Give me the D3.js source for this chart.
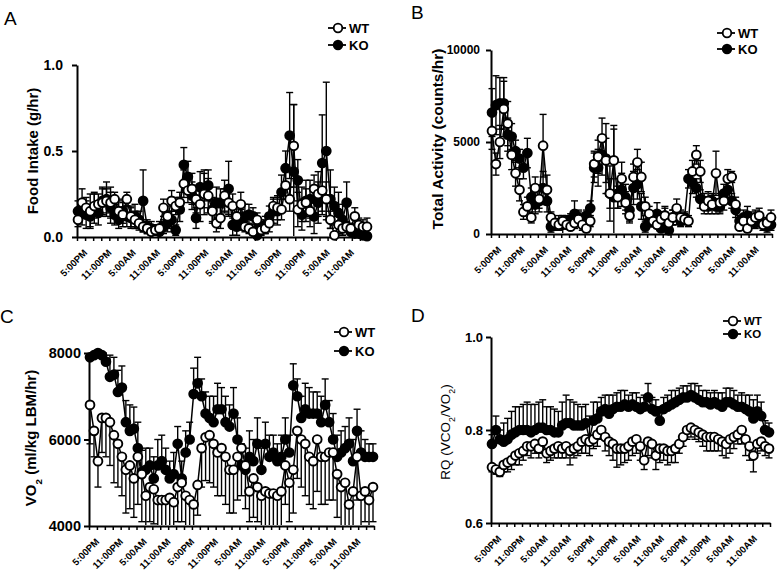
<!DOCTYPE html>
<html><head><meta charset="utf-8">
<script src="https://cdn.jsdelivr.net/npm/d3@7"></script>
<style>body{margin:0;background:#fff}svg{display:block;font-family:"Liberation Sans",Arial,sans-serif}</style>
</head><body><svg id="c" width="777" height="579"></svg>
<script>
const hourLabels = ["5:00PM","11:00PM","5:00AM","11:00AM","5:00PM","11:00PM","5:00AM","11:00AM","5:00PM","11:00PM","5:00AM","11:00AM"];
const seriesNames = ["WT","KO"];
const foodWT = [0.10,0.20,0.17,0.15,0.18,0.19,0.20,0.21,0.20,0.22,0.15,0.13,0.22,0.12,0.10,0.08,0.06,0.05,0.03,0.04,0.05,0.17,0.12,0.21,0.18,0.20,0.31,0.27,0.28,0.22,0.19,0.25,0.24,0.15,0.08,0.11,0.24,0.20,0.18,0.12,0.19,0.06,0.05,0.03,0.10,0.04,0.05,0.08,0.18,0.17,0.16,0.30,0.22,0.53,0.16,0.19,0.20,0.15,0.28,0.25,0.27,0.22,0.10,0.01,0.07,0.05,0.06,0.05,0.12,0.07,0.06,0.06];
const foodKO = [0.15,0.14,0.13,0.12,0.17,0.14,0.21,0.22,0.17,0.13,0.10,0.15,0.12,0.11,0.12,0.10,0.21,0.06,0.05,0.04,0.03,0.06,0.08,0.10,0.04,0.16,0.42,0.35,0.24,0.11,0.29,0.28,0.30,0.16,0.20,0.20,0.21,0.28,0.07,0.06,0.10,0.12,0.13,0.12,0.01,0.06,0.07,0.12,0.15,0.15,0.26,0.40,0.59,0.38,0.33,0.13,0.21,0.22,0.12,0.20,0.43,0.50,0.22,0.18,0.14,0.10,0.20,0.03,0.02,0.02,0.01,0.005];
const foodWTerr = [0.04,0.08,0.06,0.10,0.07,0.06,0.08,0.07,0.09,0.04,0.06,0.07,0.04,0.06,0.05,0.04,0.03,0.03,0.02,0.03,0.04,0.05,0.06,0.06,0.05,0.06,0.08,0.07,0.09,0.08,0.10,0.12,0.10,0.07,0.05,0.06,0.09,0.07,0.07,0.05,0.07,0.03,0.03,0.02,0.04,0.03,0.03,0.05,0.05,0.07,0.06,0.08,0.07,0.24,0.10,0.10,0.08,0.09,0.08,0.13,0.14,0.10,0.05,0.01,0.05,0.04,0.03,0.03,0.05,0.04,0.04,0.05];
const foodKOerr = [0.06,0.07,0.08,0.06,0.09,0.07,0.08,0.10,0.09,0.06,0.05,0.07,0.06,0.06,0.07,0.05,0.18,0.04,0.04,0.03,0.03,0.04,0.05,0.05,0.03,0.07,0.10,0.09,0.08,0.06,0.09,0.11,0.09,0.07,0.09,0.08,0.07,0.16,0.06,0.05,0.06,0.07,0.06,0.05,0.02,0.04,0.05,0.06,0.07,0.08,0.10,0.10,0.25,0.39,0.12,0.09,0.12,0.11,0.10,0.12,0.28,0.40,0.17,0.11,0.12,0.09,0.12,0.03,0.02,0.02,0.02,0.01];
const actWT = [5600,3800,5000,6800,6000,4300,3300,2400,1200,1500,900,2500,1900,4800,2400,900,600,500,700,500,400,600,800,500,300,700,3800,4200,5200,4000,2200,4000,2000,3000,1700,1000,3100,3900,3100,1500,1100,700,500,800,1000,600,900,1400,900,800,700,3400,4300,3400,1500,1800,1600,3300,1700,1800,3000,3100,1600,400,700,300,700,900,1000,500,600,900];
const actKO = [6600,7000,7100,7100,5400,5300,4500,4100,3600,4400,2000,1600,1800,2500,1800,400,500,600,500,700,800,1100,900,600,1000,1400,3600,3600,4300,4100,2200,2000,2200,2400,2000,1300,2500,2700,1500,400,700,800,1100,300,1000,200,900,1000,700,900,3000,2800,2500,1900,1800,1500,1800,1500,1500,2200,2400,1800,1300,700,900,1000,800,600,700,500,400,500];
const actWTerr = [1000,600,900,1500,1200,800,700,600,400,500,300,600,500,1700,800,300,200,200,300,200,200,300,400,300,200,300,700,900,1100,1200,800,1900,600,900,600,400,700,700,800,500,400,300,200,400,500,300,400,500,400,300,300,600,500,600,400,500,500,1200,500,500,500,300,400,200,300,200,300,400,400,300,300,400];
const actKOerr = [1300,1600,1400,1400,900,700,600,500,600,800,500,500,600,900,600,300,300,400,500,300,300,700,400,400,300,400,800,1000,1100,1900,1500,3700,800,900,700,600,900,800,700,300,300,400,600,300,400,300,400,500,300,300,500,600,500,500,400,400,400,400,400,500,500,400,400,300,400,500,400,300,300,300,300,300];
const vo2WT = [6800,6200,5500,6500,6500,6400,6100,5900,5600,5300,5400,5100,5600,5200,4700,4900,4850,4600,4600,4600,4650,4550,4900,5000,4700,4600,4500,4950,5800,6050,6100,5900,5700,5800,5600,5300,5300,5600,5800,5400,4800,5100,4900,4700,4800,4750,4750,4700,4800,5400,5000,5300,6200,6000,5900,5600,5500,6000,5600,5600,5700,5700,5200,4900,5000,4500,4800,5600,4700,4800,4600,4900];
const vo2KO = [7900,7950,8000,7950,7800,7450,7500,7100,7200,6400,6200,6250,5800,5250,5300,5400,5100,5400,5500,5300,5100,5200,5900,5100,5700,6000,7050,7300,7000,6600,6500,6400,6700,6700,6400,6300,6600,6000,5400,5300,5600,5500,5900,5300,5900,5600,5700,5500,5600,6000,5700,7250,7000,6500,6700,6600,6600,6600,6400,6800,6400,6000,5600,5700,5800,5900,5500,6200,5700,5600,5600,5600];
const vo2WTerr = [900,600,600,800,900,1000,1100,1000,900,1000,1000,900,1100,1100,700,800,800,700,700,700,700,700,800,900,700,700,600,700,900,1000,1100,1000,1000,1100,1100,1000,1000,1000,1100,1000,700,900,800,700,900,800,800,800,800,900,900,1000,1100,1100,1200,1100,1100,1200,1100,1100,1100,1100,1000,900,1000,700,900,1000,700,700,700,800];
const vo2KOerr = [300,200,200,200,300,500,400,500,500,500,600,500,600,500,500,400,500,600,600,500,400,500,400,400,500,400,600,600,400,500,500,600,600,500,600,500,600,500,500,500,600,500,600,500,500,500,400,400,500,500,400,500,400,500,600,600,500,500,600,600,500,600,500,500,500,600,500,500,500,400,300,300];
const rqWT = [0.72,0.715,0.71,0.725,0.73,0.735,0.745,0.75,0.755,0.765,0.765,0.77,0.76,0.775,0.75,0.755,0.76,0.765,0.76,0.765,0.755,0.76,0.765,0.775,0.78,0.775,0.78,0.79,0.80,0.785,0.775,0.77,0.76,0.76,0.76,0.765,0.775,0.78,0.765,0.735,0.775,0.77,0.745,0.76,0.76,0.755,0.755,0.76,0.77,0.785,0.80,0.805,0.80,0.795,0.79,0.785,0.785,0.785,0.78,0.775,0.77,0.78,0.785,0.79,0.80,0.78,0.765,0.745,0.77,0.775,0.765,0.76];
const rqKO = [0.77,0.80,0.78,0.775,0.78,0.79,0.795,0.80,0.80,0.80,0.795,0.80,0.805,0.805,0.80,0.80,0.795,0.795,0.81,0.815,0.815,0.81,0.81,0.81,0.815,0.78,0.82,0.825,0.84,0.845,0.835,0.845,0.85,0.85,0.855,0.85,0.855,0.85,0.845,0.85,0.87,0.845,0.84,0.82,0.845,0.85,0.855,0.86,0.865,0.87,0.87,0.875,0.87,0.865,0.86,0.86,0.855,0.86,0.855,0.85,0.86,0.86,0.855,0.85,0.85,0.845,0.84,0.825,0.84,0.83,0.80,0.795];
const rqWTerr = [0.01,0.01,0.01,0.015,0.02,0.02,0.02,0.025,0.02,0.02,0.025,0.02,0.02,0.025,0.02,0.02,0.02,0.025,0.02,0.025,0.03,0.02,0.02,0.025,0.03,0.03,0.02,0.025,0.02,0.03,0.03,0.035,0.04,0.035,0.03,0.03,0.03,0.03,0.03,0.02,0.03,0.03,0.03,0.03,0.025,0.03,0.025,0.03,0.02,0.02,0.02,0.02,0.02,0.02,0.025,0.03,0.03,0.03,0.025,0.03,0.03,0.03,0.025,0.02,0.03,0.035,0.03,0.035,0.02,0.02,0.02,0.02];
const rqKOerr = [0.02,0.03,0.02,0.04,0.045,0.05,0.055,0.05,0.055,0.06,0.06,0.055,0.055,0.06,0.05,0.05,0.05,0.045,0.05,0.06,0.05,0.05,0.045,0.04,0.04,0.05,0.04,0.035,0.03,0.03,0.04,0.03,0.03,0.035,0.03,0.025,0.025,0.03,0.025,0.025,0.03,0.025,0.025,0.03,0.025,0.025,0.03,0.025,0.025,0.025,0.025,0.025,0.03,0.03,0.025,0.025,0.025,0.025,0.025,0.03,0.03,0.03,0.03,0.025,0.03,0.03,0.035,0.04,0.035,0.03,0.02,0.02];

const panels = [
  {letter:"A", lp:[4,25], x0:77, x1:368, yTop:65, yBot:237, domain:[0,1], yTicks:[0,0.5,1], fmt:d3.format(".1f"), yfs:14, pad:9,
   data:[foodWT,foodKO], err:[foodWTerr,foodKOerr], dir:["both","both"],
   title:[["Food Intake (g/hr)"]], tpos:[33,151], tfs:15, tbold:true, leg:[338,28,45], lfs:13},
  {letter:"B", lp:[411,19], x0:491, x1:772, yTop:50, yBot:234, domain:[0,10000], yTicks:[0,5000,10000], fmt:d3.format("d"), yfs:12, pad:6,
   data:[actWT,actKO], err:[actWTerr,actKOerr], dir:["both","both"],
   title:[["Total Activity (counts/hr)"]], tpos:[438,139], tfs:15.5, tbold:true, leg:[727,33,49], lfs:13},
  {letter:"C", lp:[0,323], x0:89, x1:374, yTop:353, yBot:526, domain:[4000,8000], yTicks:[4000,6000,8000], fmt:d3.format("d"), yfs:14.5, pad:3,
   data:[vo2WT,vo2KO], err:[vo2WTerr,vo2KOerr], dir:["down","up"],
   title:[["VO"],["2","sub"],[" (ml/kg LBM/hr)"]], tpos:[31,438], tfs:15, tbold:true, leg:[344,332,351], lfs:13},
  {letter:"D", lp:[411,322], x0:491, x1:770, yTop:337, yBot:523, domain:[0.6,1.0], yTicks:[0.6,0.8,1.0], fmt:d3.format(".1f"), yfs:13, pad:3,
   data:[rqWT,rqKO], err:[rqWTerr,rqKOerr], dir:["down","up"],
   title:[["RQ (VCO"],["2","sub"],["/VO"],["2","sub"],[")"]], tpos:[445,432], tfs:13.5, tbold:false, leg:[733,321,334], lfs:11.5}
];

const svg = d3.select("#c");
const idx = d3.range(72);

panels.forEach((p, pi) => {
  const g = svg.append("g");
  const x = d3.scaleLinear().domain([0,72]).range([p.x0, p.x1]);
  const xd = d3.scaleLinear().domain([0,71]).range([p.x0+1, p.x1-1]);
  const y = d3.scaleLinear().domain(p.domain).range([p.yBot, p.yTop]);

  g.append("text").attr("x", p.lp[0]).attr("y", p.lp[1]).attr("font-size", 19).text(p.letter);

  const t = g.append("text").attr("transform", `translate(${p.tpos[0]},${p.tpos[1]}) rotate(-90)`)
    .attr("text-anchor","middle").attr("dy","0.35em").attr("font-size", p.tfs)
    .attr("font-weight", p.tbold ? "bold" : "normal");
  p.title.forEach(seg => {
    const ts = t.append("tspan").text(seg[0]);
    if (seg[1] === "sub") ts.attr("baseline-shift","sub").attr("font-size", p.tfs*0.65);
  });

  const ya = g.append("g").attr("transform", `translate(${p.x0},0)`)
    .call(d3.axisLeft(y).tickValues(p.yTicks).tickFormat(p.fmt).tickSize(5).tickSizeOuter(0).tickPadding(p.pad));
  ya.select(".domain").attr("stroke-width", 2);
  ya.selectAll(".tick line").attr("stroke-width", 2);
  ya.selectAll("text").attr("font-size", p.yfs).attr("font-weight","bold").attr("font-family",'"Liberation Sans",Arial,sans-serif');

  const xa = g.append("g").attr("transform", `translate(0,${p.yBot})`)
    .call(d3.axisBottom(x).tickValues(d3.range(0,73,2)).tickSize(4).tickSizeOuter(0)
      .tickFormat(d => (d % 6 === 0 && d/6 < hourLabels.length) ? hourLabels[d/6] : ""));
  xa.select(".domain").attr("stroke-width", 2);
  xa.selectAll(".tick line").attr("stroke-width", 1.5);
  xa.selectAll("text").attr("font-size", 9.6).attr("font-weight","bold").attr("font-family",'"Liberation Sans",Arial,sans-serif')
    .attr("text-anchor","end").attr("x",0).attr("y",0).attr("dy","0.35em")
    .attr("transform","translate(8,14) rotate(-45)");

  const cid = "clip" + pi;
  svg.append("clipPath").attr("id", cid).append("rect")
    .attr("x", p.x0 - 10).attr("y", p.yTop - 1).attr("width", p.x1 - p.x0 + 20).attr("height", p.yBot - p.yTop);

  const order = [1, 0];
  const bars = g.append("g").attr("clip-path", `url(#${cid})`).attr("stroke","#000").attr("stroke-width",1.4);
  order.forEach(s => {
    const vals = p.data[s], errs = p.err[s], dir = p.dir[s];
    idx.forEach(i => {
      const v = vals[i], e = errs[i];
      const hi = dir === "down" ? v : v + e;
      const lo = dir === "up" ? v : v - e;
      bars.append("line").attr("x1", xd(i)).attr("x2", xd(i)).attr("y1", y(lo)).attr("y2", y(hi));
      if (dir !== "down") bars.append("line").attr("x1", xd(i)-3.5).attr("x2", xd(i)+3.5).attr("y1", y(hi)).attr("y2", y(hi));
      if (dir !== "up") bars.append("line").attr("x1", xd(i)-3.5).attr("x2", xd(i)+3.5).attr("y1", y(lo)).attr("y2", y(lo));
    });
  });
  order.forEach(s => {
    const vals = p.data[s];
    g.append("path").datum(idx).attr("fill","none").attr("stroke","#000").attr("stroke-width",1.5)
      .attr("d", d3.line().x(i => xd(i)).y(i => y(vals[i])));
  });
  order.forEach(s => {
    const vals = p.data[s];
    g.append("g").selectAll("circle").data(idx).join("circle")
      .attr("cx", i => xd(i)).attr("cy", i => y(vals[i])).attr("r", 4.4)
      .attr("fill", s === 0 ? "#fff" : "#000").attr("stroke","#000").attr("stroke-width",1.9);
  });

  seriesNames.forEach((nm, s) => {
    const ly = p.leg[1 + s], lx = p.leg[0];
    g.append("line").attr("x1", lx-10).attr("x2", lx+8).attr("y1", ly).attr("y2", ly).attr("stroke","#000").attr("stroke-width",1.8);
    g.append("circle").attr("cx", lx).attr("cy", ly).attr("r", 4.3).attr("fill", s === 0 ? "#fff" : "#000").attr("stroke","#000").attr("stroke-width",1.8);
    g.append("text").attr("x", lx+11).attr("y", ly).attr("dy","0.36em").attr("font-size",p.lfs).attr("font-weight","bold").text(nm);
  });
});
</script></body></html>
